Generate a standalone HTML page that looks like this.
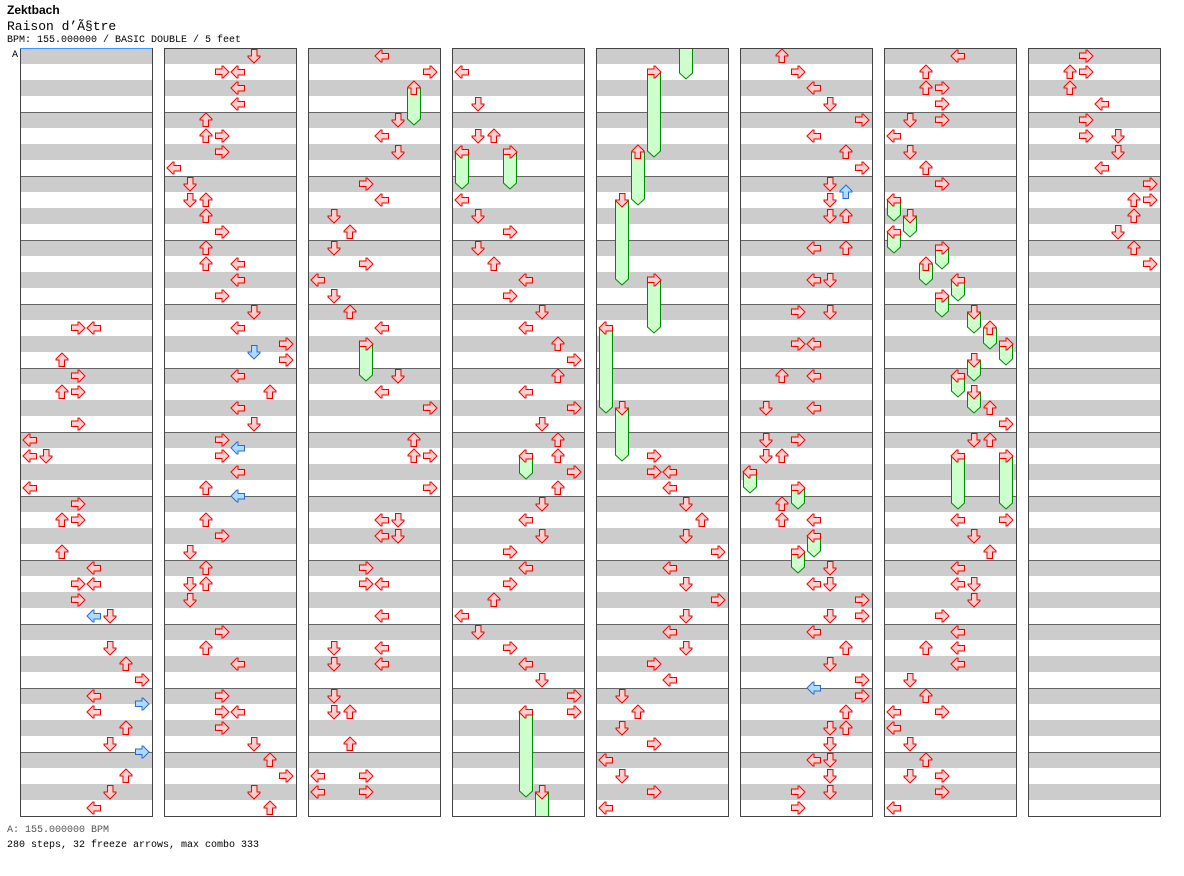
<!DOCTYPE html>
<html><head><meta charset="utf-8">
<style>
body{margin:0;background:#fff;width:1184px;height:876px;overflow:hidden;position:relative;font-family:"Liberation Mono",monospace;}
.t{position:absolute;left:7px;white-space:nowrap;color:#000}
</style></head><body>
<div class="t" style="top:3px;font:bold 12px 'Liberation Sans',sans-serif">Zektbach</div>
<div class="t" style="top:19px;font-size:13px">Raison d’Ã§tre</div>
<div class="t" style="top:35px;font-size:10px">BPM: 155.000000 / BASIC DOUBLE / 5 feet</div>
<div class="t" style="top:825px;font-size:10px;color:#555">A: 155.000000 BPM</div>
<div class="t" style="top:840px;font-size:10px">280 steps, 32 freeze arrows, max combo 333</div>
<svg id="s" width="1184" height="876" style="position:absolute;left:0;top:0"></svg>
<script>
var S='<defs><clipPath id="cp"><rect x="0" y="49" width="1184" height="767"/></clipPath></defs>';
for(var c=0;c<8;c++){var X=20+c*144;
 for(var r=0;r<48;r++){S+='<rect x="'+X+'" y="'+(48+r*16)+'" width="132" height="16" fill="'+(r%2?'#fff':'#ccc')+'"/>';}
 for(var m=1;m<12;m++)S+='<line x1="'+X+'" x2="'+(X+132)+'" y1="'+(48+m*64+.5)+'" y2="'+(48+m*64+.5)+'" stroke="#666"/>';
 S+='<rect x="'+(X+.5)+'" y="48.5" width="132" height="768" fill="none" stroke="#444"/>';
}
S+='<line x1="20" x2="152" y1="48.5" y2="48.5" stroke="#39f"/>';
S+='<text x="12" y="57" font-size="10" font-family="Liberation Mono">A</text>';
var N=[
[78,328],[94,328],[62,360],[78,376],[62,392],[78,392],[78,424],[30,440],[30,456],[46,456],[30,488],[78,504],[62,520],[78,520],[62,552],[94,568],[78,584],[94,584],[78,600],[110,616],[94,616,1],[110,648],[126,664],[142,680],[94,696],[142,704,1],[94,712],[126,728],[110,744],[142,752,1],[126,776],[110,792],[94,808],
[254,56],[222,72],[238,72],[238,88],[238,104],[206,120],[206,136],[222,136],[222,152],[174,168],[190,184],[190,200],[206,200],[206,216],[222,232],[206,248],[206,264],[238,264],[238,280],[222,296],[254,312],[238,328],[286,344],[254,352,1],[286,360],[238,376],[270,392],[238,408],[254,424],[222,440],[238,448,1],[222,456],[238,472],[206,488],[238,496,1],[206,520],[222,536],[190,552],[206,568],[190,584],[206,584],[190,600],[222,632],[206,648],[238,664],[222,696],[222,712],[238,712],[222,728],[254,744],[270,760],[286,776],[254,792],[270,808],
[382,56],[430,72],[398,120],[382,136],[398,152],[366,184],[382,200],[334,216],[350,232],[334,248],[366,264],[318,280],[334,296],[350,312],[382,328],[398,376],[382,392],[430,408],[414,440],[414,456],[430,456],[430,488],[382,520],[398,520],[382,536],[398,536],[366,568],[366,584],[382,584],[382,616],[334,648],[382,648],[334,664],[382,664],[334,696],[334,712],[350,712],[350,744],[318,776],[366,776],[318,792],[366,792],
[462,72],[478,104],[478,136],[494,136],[462,200],[478,216],[510,232],[478,248],[494,264],[526,280],[510,296],[542,312],[526,328],[558,344],[574,360],[558,376],[526,392],[574,408],[542,424],[558,440],[558,456],[574,472],[558,488],[542,504],[526,520],[542,536],[510,552],[526,568],[510,584],[494,600],[462,616],[478,632],[510,648],[526,664],[542,680],[574,696],[574,712],
[654,456],[654,472],[670,472],[670,488],[686,504],[702,520],[686,536],[718,552],[670,568],[686,584],[718,600],[686,616],[670,632],[686,648],[654,664],[670,680],[622,696],[638,712],[622,728],[654,744],[606,760],[622,776],[654,792],[606,808],
[782,56],[798,72],[814,88],[830,104],[862,120],[814,136],[846,152],[862,168],[830,184],[846,192,1],[830,200],[830,216],[846,216],[814,248],[846,248],[814,280],[830,280],[798,312],[830,312],[798,344],[814,344],[782,376],[814,376],[766,408],[814,408],[766,440],[798,440],[766,456],[782,456],[782,504],[782,520],[814,520],[830,568],[814,584],[830,584],[862,600],[830,616],[862,616],[814,632],[846,648],[830,664],[862,680],[814,688,1],[862,696],[846,712],[830,728],[846,728],[830,744],[814,760],[830,760],[830,776],[798,792],[830,792],[798,808],
[958,56],[926,72],[926,88],[942,88],[942,104],[910,120],[942,120],[894,136],[910,152],[926,168],[942,184],[990,408],[1006,424],[974,440],[990,440],[958,520],[1006,520],[974,536],[990,552],[958,568],[958,584],[974,584],[974,600],[942,616],[958,632],[926,648],[958,648],[958,664],[910,680],[926,696],[894,712],[942,712],[894,728],[910,744],[926,760],[910,776],[942,776],[942,792],[894,808],
[1086,56],[1070,72],[1086,72],[1070,88],[1102,104],[1086,120],[1086,136],[1118,136],[1118,152],[1102,168],[1150,184],[1134,200],[1150,200],[1134,216],[1118,232],[1134,248],[1150,264]];
var F=[[414,88,124],[366,344,380],[462,152,188],[510,152,188],[526,456,478],[526,712,796],[542,792,830],[686,40,78],[654,72,156],[638,152,204],[622,200,284],[654,280,332],[606,328,412],[622,408,460],[750,472,492],[798,488,508],[814,536,556],[798,552,572],
[894,200,220],[910,216,236],[894,232,252],[942,248,268],[926,264,284],[958,280,300],[942,296,316],[974,312,332],[990,328,348],[1006,344,364],[974,360,380],[958,376,396],[974,392,412],[958,456,508],[1006,456,508]];
function dir(x){var c=Math.floor((x-20)/144),X=20+c*144;return Math.round((x-X-10)/16)%4;}
var ROT=[0,-90,90,180];
function arrow(x,y,b){var d=dir(x);
 return '<polygon transform="translate('+x+','+y+') rotate('+ROT[d]+')" points="-7,0 -1,-6 0,-6 0,-2.5 6.5,-2.5 6.5,3 0,3 0,6 -1,6" fill="'+(b?'#acdcff':'#ffcfcf')+'" stroke="'+(b?'#2a6ad0':'#e00')+'" stroke-width="1"/>';}
var G='<g clip-path="url(#cp)">';
F.forEach(function(f){var x=f[0],y=f[1],e=f[2];
 G+='<path d="M'+(x-6.5)+','+y+' L'+(x+6.5)+','+y+' L'+(x+6.5)+','+(e-5)+' L'+x+','+(e+1)+' L'+(x-6.5)+','+(e-5)+' Z" fill="#ccffcc" stroke="#080"/>';
 if(y>48)G+=arrow(x,y,0);});
G+='</g>';
S+=G;
N.forEach(function(n){S+=arrow(n[0],n[1],n[2]);});
document.getElementById('s').innerHTML=S;
</script>
</body></html>
